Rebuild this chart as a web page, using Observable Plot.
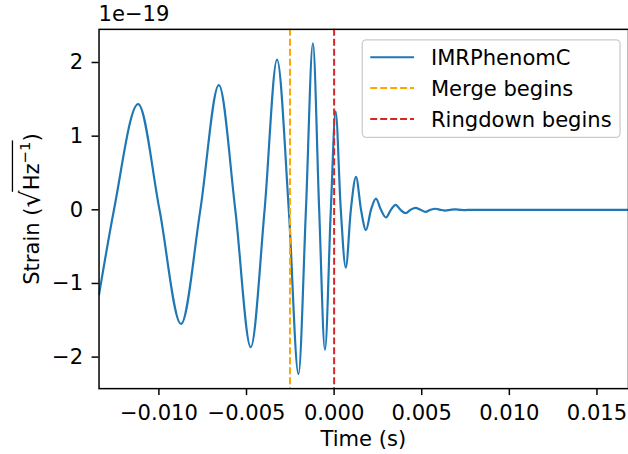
<!DOCTYPE html>
<html><head><meta charset="utf-8">
<script src="https://cdn.jsdelivr.net/npm/d3@7"></script>
<script src="https://cdn.jsdelivr.net/npm/@observablehq/plot@0.6"></script>
<style>
body{margin:0;background:#fff;}
#chart{width:628px;height:454px;overflow:hidden;position:relative;background:#fff;}
</style></head><body><div id="chart"></div>
<script>
// Time (s) and strain (units of 1e-19): extrema and zero crossings
const timeS = [
  -0.013417, -0.012564, -0.011183, -0.009966, -0.008738, -0.007635, -0.006578, -0.005640,
  -0.004758, -0.003968, -0.003258, -0.002587, -0.002035, -0.001609, -0.001211, -0.000853,
  -0.000523, -0.000188, 0.000085, 0.000381, 0.000665, 0.000955, 0.001251, 0.001535,
  0.001819, 0.002103, 0.002388, 0.002672, 0.002956, 0.003240, 0.003508, 0.003792,
  0.004076, 0.004360, 0.004645, 0.004929, 0.005213, 0.005497, 0.005782, 0.006066,
  0.006350, 0.006634, 0.006919, 0.007203, 0.007487, 0.007771, 0.012, 0.0168
];
const strain = [
  -1.15, 0, 1.436, 0, -1.55, 0, 1.693, 0,
  -1.865, 0, 2.04, 0, -2.23, 0, 2.26, 0,
  -1.90, 0, 1.333, 0, -0.784, 0, 0.446, 0,
  -0.275, 0, 0.153, 0, -0.104, 0, 0.068, 0,
  -0.046, 0, 0.027, 0, -0.027, 0, 0.014, 0,
  -0.010, 0, 0.006, 0, -0.004, 0, 0, 0
];
const mergeTime = [-0.00252];
const ringdownTime = [0];
const xTicks = [-0.010, -0.005, 0, 0.005, 0.010, 0.015];
const yTicks = [-2, -1, 0, 1, 2];
const legendLabels = ["IMRPhenomC", "Merge begins", "Ringdown begins"];
const exponentLabel = "1e\u221219";
const xLabel = "Time (s)";

const data = timeS.map((t, i) => ({t, h: strain[i]}));
const FONT = "DejaVu Sans";
const FS = 21.2;

const svg = Plot.plot({
  width: 631, height: 454,
  marginLeft: 99, marginRight: 0, marginTop: 29, marginBottom: 64,
  style: {fontFamily: FONT, fontSize: FS + "px", color: "black", background: "white", overflow: "visible"},
  x: {domain: [-0.013417, 0.0168]},
  y: {domain: [-2.428, 2.45]},
  marks: [
    Plot.line(data, {x: "t", y: "h", curve: "monotone-x", stroke: "#1f77b4", strokeWidth: 2.2, clip: true}),
    Plot.ruleX(mergeTime, {stroke: "orange", strokeWidth: 2, strokeDasharray: "7,3"}),
    Plot.ruleX(ringdownTime, {stroke: "#d62728", strokeWidth: 2, strokeDasharray: "7,3"}),
    Plot.axisX({ticks: xTicks, tickFormat: d3.format(".3f"), tickSize: 7, tickPadding: 9, strokeWidth: 1.5, label: null, fontSize: FS}),
    Plot.axisY({ticks: yTicks, tickFormat: d3.format("d"), tickSize: 7, tickPadding: 9, strokeWidth: 1.5, label: null, fontSize: FS}),
    Plot.frame({stroke: "black", strokeWidth: 1.5})
  ]
});
document.getElementById("chart").appendChild(svg);

const s = d3.select(svg);
// exponent label
s.append("text").attr("x", 99).attr("y", 21).attr("text-anchor", "start").attr("font-family", FONT).attr("font-size", FS)
  .attr("fill", "black").text(exponentLabel);
// x label
s.append("text").attr("x", 365).attr("y", 448).attr("text-anchor", "middle").attr("font-family", FONT)
  .attr("font-size", FS).attr("fill", "black").text(xLabel);

// y label with radical
const g = s.append("g").attr("transform", "translate(39.5,210) rotate(-90)");
const t = g.append("text").attr("text-anchor", "start").attr("font-family", FONT).attr("font-size", FS).attr("fill", "black");
t.append("tspan").text("Strain (");
t.append("tspan").attr("font-size", 27).attr("dy", 1).text("\u221a");
t.append("tspan").attr("dy", -1).text("Hz");
t.append("tspan").attr("font-size", 15).attr("dy", -9).text("\u22121");
t.append("tspan").attr("dy", 9).text(")");
const tn = t.node();
const bb = tn.getBBox();
t.attr("x", -bb.width / 2);
const eR = tn.getExtentOfChar(8);
const e1 = tn.getExtentOfChar(12);
g.append("line").attr("x1", eR.x + eR.width - 1.5).attr("x2", e1.x + e1.width + 1)
  .attr("y1", -27).attr("y2", -27).attr("stroke", "black").attr("stroke-width", 1.3);

// legend
const lg = s.append("g");
lg.append("rect").attr("x", 364).attr("y", 40).attr("width", 259).attr("height", 98).attr("rx", 4)
  .attr("fill", "white").attr("fill-opacity", 0.8).attr("stroke", "#cccccc").attr("stroke-width", 1.3);
const legendStyles = [
  {stroke: "#1f77b4", dash: null},
  {stroke: "orange", dash: "7,3"},
  {stroke: "#d62728", dash: "7,3"}
];
legendLabels.forEach((lab, i) => {
  const y = 57.5 + i * 31;
  const ln = lg.append("line").attr("x1", 372).attr("x2", 416).attr("y1", y).attr("y2", y)
    .attr("stroke", legendStyles[i].stroke).attr("stroke-width", i === 0 ? 2.2 : 2);
  if (legendStyles[i].dash) ln.attr("stroke-dasharray", legendStyles[i].dash);
  lg.append("text").attr("x", 433).attr("y", y).attr("dy", "0.36em").attr("text-anchor", "start").attr("font-family", FONT)
    .attr("font-size", FS).attr("fill", "black").text(lab);
});
</script></body></html>
